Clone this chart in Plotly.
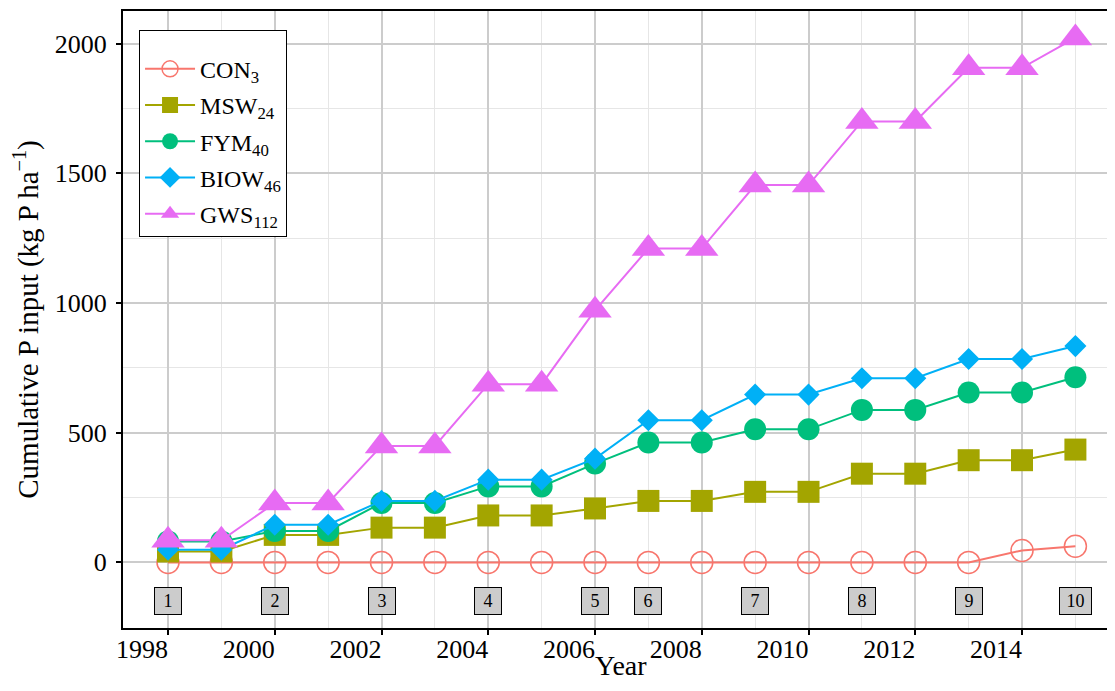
import plotly.graph_objects as go

# Cumulative P input per treatment, 1998-2015
years = list(range(1998, 2016))
con = [0, 0, 0, 0, 0, 0, 0, 0, 0, 0, 0, 0, 0, 0, 0, 0, 46, 62]
msw = [42, 42, 106, 106, 134, 134, 181, 181, 208, 237, 237, 272, 272, 342, 342, 394, 394, 435]
fym = [81, 81, 121, 121, 229, 229, 293, 293, 381, 462, 462, 513, 513, 588, 588, 655, 655, 714]
biow = [49, 49, 145, 145, 237, 237, 319, 319, 400, 548, 548, 647, 647, 710, 710, 784, 784, 834]
gws = [85, 85, 229, 229, 449, 449, 687, 687, 972, 1210, 1210, 1455, 1455, 1700, 1700, 1907, 1907, 2022]

# application events (numbered boxes under the curves)
app_years = [1998, 2000, 2002, 2004, 2006, 2007, 2009, 2011, 2013, 2015]
app_labels = ['1', '2', '3', '4', '5', '6', '7', '8', '9', '10']
app_y = -150

FONT = 'Liberation Serif'

series = [
    ('CON<sub>3</sub>', con, '#F8766D', 'circle-open', 22),
    ('MSW<sub>24</sub>', msw, '#A3A500', 'square', 22),
    ('FYM<sub>40</sub>', fym, '#00BF7D', 'circle', 22),
    ('BIOW<sub>46</sub>', biow, '#00B0F6', 'diamond', 17),
    ('GWS<sub>112</sub>', gws, '#E76BF3', 'triangle-up', 29),
]

fig = go.Figure()
for name, vals, col, sym, size in series:
    mline = dict(width=1.5, color=col) if sym.endswith('open') else dict(width=0)
    fig.add_trace(go.Scatter(x=years, y=vals, name=name, mode='lines+markers',
                             line=dict(color=col, width=2),
                             marker=dict(symbol=sym, size=size, color=col, line=mline),
                             legendgroup=name))

for yr, lab in zip(app_years, app_labels):
    fig.add_annotation(x=yr, y=app_y, text=lab, showarrow=False,
                       font=dict(family=FONT, size=18, color='black'),
                       bgcolor='#cccccc', bordercolor='black', borderwidth=1,
                       borderpad=2, width=22 if len(lab) == 1 else 27, height=22)

# x title as a paper annotation (axis title ignores standoff without automargin)
fig.add_annotation(text='Year', xref='paper', yref='paper', x=0.5066, y=-0.061,
                   xanchor='center', yanchor='middle', showarrow=False,
                   font=dict(family=FONT, size=28, color='black'))

# the page has an 8px body margin, so the figure is sized to fit inside it
fig.update_xaxes(range=[1997.157, 2015.592], tickmode='linear', tick0=1998, dtick=2,
                 ticks='outside', ticklen=5, tickwidth=2, tickcolor='black',
                 showline=True, linecolor='black', linewidth=2, mirror=True,
                 showgrid=True, gridcolor='#cccccc', gridwidth=2, zeroline=False,
                 minor=dict(dtick=1, showgrid=True, gridcolor='#e6e6e6', gridwidth=1),
                 ticklabelshift=-26, ticklabelstandoff=-8, automargin=False,
                 tickfont=dict(family=FONT, size=26, color='black'))

fig.update_yaxes(range=[-253, 2126], tickmode='linear', tick0=0, dtick=500,
                 ticks='outside', ticklen=5, tickwidth=2, tickcolor='black',
                 showline=True, linecolor='black', linewidth=2,
                 showgrid=True, gridcolor='#cccccc', gridwidth=2, zeroline=False,
                 minor=dict(dtick=250, showgrid=True, gridcolor='#e6e6e6', gridwidth=1),
                 automargin=False, ticklabelstandoff=4,
                 tickfont=dict(family=FONT, size=26, color='black'),
                 title=dict(text='Cumulative P input (kg P ha<sup>\u22121</sup>)', standoff=8,
                            font=dict(family=FONT, size=29, color='black')))

fig.update_layout(width=1099, height=675, autosize=False,
                  margin=dict(l=115, r=0, t=3, b=55),
                  paper_bgcolor='white', plot_bgcolor='white',
                  font=dict(family=FONT, color='black'),
                  legend=dict(x=0.0163, y=0.969, xanchor='left', yanchor='top',
                              bgcolor='white', bordercolor='black', borderwidth=1,
                              title=dict(text=' ', font=dict(size=12)),
                              font=dict(family=FONT, size=24, color='black'),
                              itemwidth=50, tracegroupgap=2, itemsizing='trace'))

fig.write_html("out.html")
